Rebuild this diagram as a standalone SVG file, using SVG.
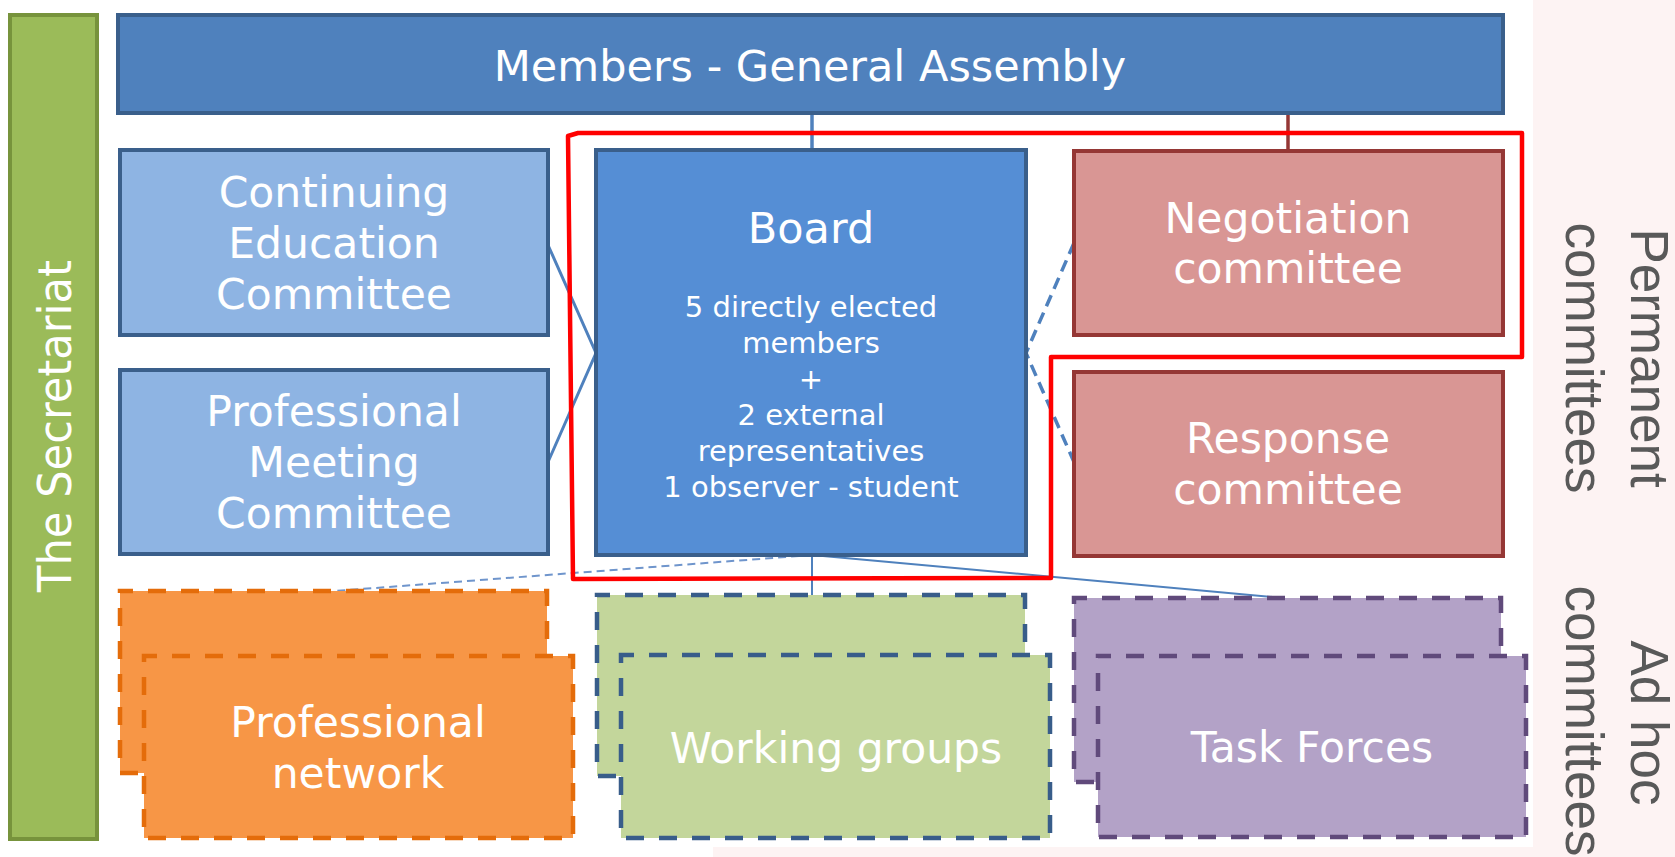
<svg xmlns="http://www.w3.org/2000/svg" width="1675" height="857" viewBox="0 0 1675 857">
<style>
.t{font-family:"DejaVu Sans",Verdana,sans-serif;fill:#ffffff;text-anchor:middle}
.big{font-size:42.5px}
.small{font-size:29px}
.side{font-family:"Liberation Sans",Arial,sans-serif;font-size:53px;fill:#595959;text-anchor:middle}
.solid{stroke-width:4;stroke-linejoin:miter}
.dash{stroke-width:4.5;stroke-dasharray:18 15;stroke-dashoffset:5}
.conn{fill:none}
</style>
<rect x="0" y="0" width="1675" height="857" fill="#fdf3f3"/>
<rect x="0" y="0" width="1533" height="847" fill="#ffffff"/>
<rect x="0" y="847" width="713" height="10" fill="#ffffff"/>

<g id="connectors" class="conn">
  <line x1="812" y1="113" x2="812" y2="150" stroke="#4f81bd" stroke-width="3.5"/>
  <line x1="1288" y1="113" x2="1288" y2="151" stroke="#953735" stroke-width="3.5"/>
  <polyline points="548,245 596,353 548,462" stroke="#4f81bd" stroke-width="3"/>
  <polyline points="1074,243 1026,353 1074,462" stroke="#4f81bd" stroke-width="3.5" stroke-dasharray="12 7"/>
  <line x1="812" y1="555" x2="335" y2="591" stroke="#6f95cc" stroke-width="2" stroke-dasharray="8 5"/>
  <line x1="812" y1="555" x2="812" y2="595" stroke="#4f81bd" stroke-width="2"/>
  <line x1="812" y1="555" x2="1284" y2="598" stroke="#4f81bd" stroke-width="2"/>
</g>

<g id="secretariat">
  <rect x="10" y="15" width="87" height="824" fill="#9bbb59" stroke="#77933c" class="solid"/>
  <text class="t" font-size="46" textLength="332" lengthAdjust="spacingAndGlyphs" transform="translate(71,426) rotate(-90)">The Secretariat</text>
</g>

<g id="general-assembly">
  <rect x="118" y="15" width="1385" height="98" fill="#4f81bd" stroke="#3a5f8b" class="solid"/>
  <text class="t" font-size="43" x="810" y="81">Members - General Assembly</text>
</g>

<g id="continuing-education">
  <rect x="120" y="150" width="428" height="185" fill="#8eb4e3" stroke="#3a5f8b" class="solid"/>
  <text class="t big" x="334" y="207">Continuing</text>
  <text class="t big" x="334" y="258">Education</text>
  <text class="t big" x="334" y="309">Committee</text>
</g>

<g id="professional-meeting">
  <rect x="120" y="370" width="428" height="184" fill="#8eb4e3" stroke="#3a5f8b" class="solid"/>
  <text class="t big" x="334" y="426">Professional</text>
  <text class="t big" x="334" y="477">Meeting</text>
  <text class="t big" x="334" y="528">Committee</text>
</g>

<g id="board">
  <rect x="596" y="150" width="430" height="405" fill="#558ed5" stroke="#3a5f8b" class="solid"/>
  <text class="t" font-size="43" x="811" y="243">Board</text>
  <text class="t small" x="811" y="317">5 directly elected</text>
  <text class="t small" x="811" y="353">members</text>
  <text class="t small" x="811" y="389">+</text>
  <text class="t small" x="811" y="425">2 external</text>
  <text class="t small" x="811" y="461">representatives</text>
  <text class="t small" x="811" y="497">1 observer - student</text>
</g>

<g id="negotiation">
  <rect x="1074" y="151" width="429" height="184" fill="#d99694" stroke="#953735" class="solid"/>
  <text class="t big" x="1288" y="233">Negotiation</text>
  <text class="t big" x="1288" y="283">committee</text>
</g>

<g id="response">
  <rect x="1074" y="372" width="429" height="184" fill="#d99694" stroke="#953735" class="solid"/>
  <text class="t big" x="1288" y="453">Response</text>
  <text class="t big" x="1288" y="504">committee</text>
</g>

<g id="professional-network">
  <rect x="120" y="591" width="427" height="182" fill="#f79646" stroke="#e46c0a" class="dash"/>
  <rect x="144" y="656" width="429" height="182" fill="#f79646" stroke="#e46c0a" class="dash"/>
  <text class="t big" x="358" y="737">Professional</text>
  <text class="t big" x="358" y="788">network</text>
</g>

<g id="working-groups">
  <rect x="597" y="595" width="428" height="181" fill="#c3d69b" stroke="#385d8a" class="dash"/>
  <rect x="621" y="655" width="429" height="183" fill="#c3d69b" stroke="#385d8a" class="dash"/>
  <text class="t big" x="836" y="763">Working groups</text>
</g>

<g id="task-forces">
  <rect x="1074" y="598" width="427" height="184" fill="#b3a2c7" stroke="#604a7b" class="dash"/>
  <rect x="1098" y="656" width="428" height="181" fill="#b3a2c7" stroke="#604a7b" class="dash"/>
  <text class="t big" x="1312" y="762">Task Forces</text>
</g>

<g id="red-outline">
  <path d="M568,136 L578,133 L1522,133 L1522,357 L1051,357 L1051,578 L573,579 Z" fill="none" stroke="#ff0000" stroke-width="4.5" stroke-linejoin="round"/>
</g>

<g id="permanent-label">
  <text class="side" transform="translate(1631,358) rotate(90)">Permanent</text>
  <text class="side" transform="translate(1566,358) rotate(90)">committees</text>
</g>

<g id="adhoc-label">
  <text class="side" transform="translate(1631,723) rotate(90)">Ad hoc</text>
  <text class="side" transform="translate(1566,721) rotate(90)">committees</text>
</g>
</svg>
